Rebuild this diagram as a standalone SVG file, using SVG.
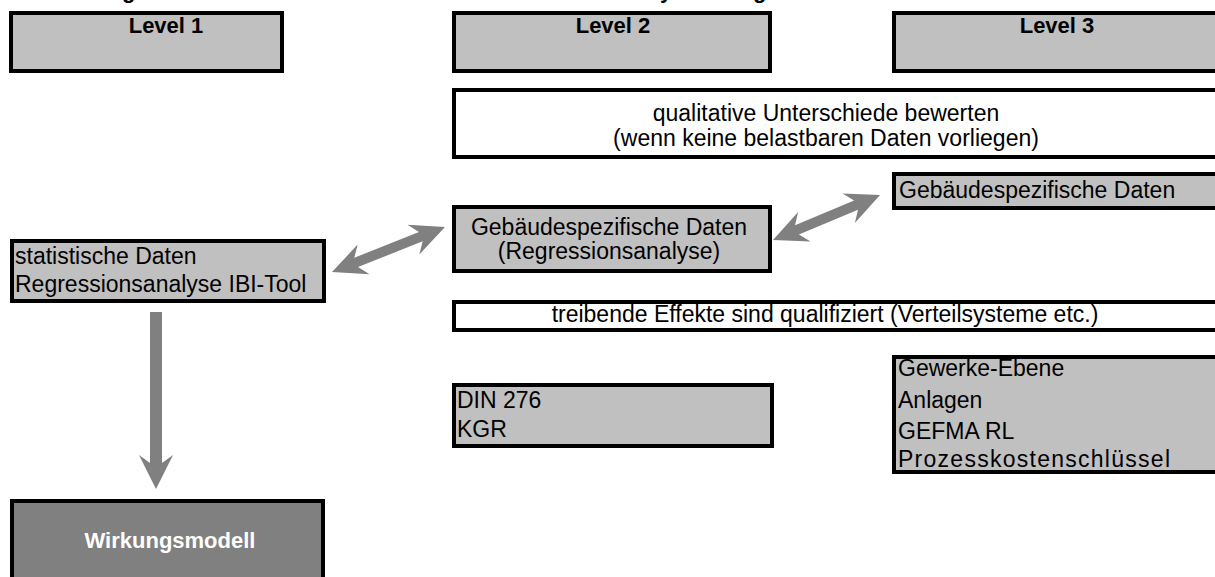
<svg xmlns="http://www.w3.org/2000/svg" width="1215" height="577" viewBox="0 0 1215 577">
  <style>
    .box { fill: #c0c0c0; stroke: #000; stroke-width: 4; }
    .plain { fill: #fff; stroke: #000; stroke-width: 4; }
    .dark { fill: #808080; stroke: #000; stroke-width: 4; }
    .arrow { fill: #808080; stroke: none; }
    text { font-family: "Liberation Sans", Arial, sans-serif; fill: #000; }
    .head { font-size: 22px; font-weight: bold; text-anchor: middle; }
    .frag { font-size: 22px; font-weight: bold; }
    .txt { font-size: 23px; }
    .mid { text-anchor: middle; }
    .light { fill: #fff; }
  </style>

  <rect width="1215" height="577" fill="#fff" />

  <!-- title line above the frame (only descenders reach into view) -->
  <g id="title-fragment">
    <text class="frag" x="122" y="-2">g</text>
    <text class="frag" x="660" y="-2">y</text>
    <text class="frag" x="753" y="-2">g</text>
  </g>

  <!-- connectors -->
  <g id="connectors">
    <!-- Level 1 down to Wirkungsmodell -->
    <polygon class="arrow" points="150,312 162,312 162,463 173,455 156,489 139,455 150,463" />
    <!-- statistische Daten <-> Gebäudespezifische Daten (Regressionsanalyse) -->
    <g transform="translate(332,272) rotate(-21.7)">
      <polygon class="arrow" points="0,0 34,-16 26,-5 95.6,-5 87.6,-16 121.6,0 87.6,16 95.6,5 26,5 34,16" />
    </g>
    <!-- Level 2 data <-> Level 3 data -->
    <g transform="translate(773,240) rotate(-22.8)">
      <polygon class="arrow" points="0,0 34,-16 26,-5 90.1,-5 82.1,-16 116.1,0 82.1,16 90.1,5 26,5 34,16" />
    </g>
  </g>

  <!-- column headers -->
  <g id="level1">
    <rect class="box" x="11" y="13" width="271" height="58" />
    <text class="head" x="166" y="33">Level 1</text>
  </g>
  <g id="level2">
    <rect class="box" x="454" y="13" width="316" height="58" />
    <text class="head" x="613" y="33">Level 2</text>
  </g>
  <g id="level3">
    <rect class="box" x="894" y="13" width="340" height="58" />
    <text class="head" x="1057" y="33">Level 3</text>
  </g>

  <!-- qualitative assessment band -->
  <g id="qualitativ">
    <rect class="plain" x="454" y="90" width="780" height="67" />
    <text class="txt mid" x="826" y="121" font-size="22">qualitative Unterschiede bewerten</text>
    <text class="txt mid" x="826" y="146" font-size="22">(wenn keine belastbaren Daten vorliegen)</text>
  </g>

  <!-- Level 3 building data -->
  <g id="gebaeude-l3">
    <rect class="box" x="894" y="174" width="340" height="34" />
    <text class="txt" x="899" y="198">Gebäudespezifische Daten</text>
  </g>

  <!-- Level 2 building data -->
  <g id="gebaeude-l2">
    <rect class="box" x="454" y="207" width="316" height="64" />
    <text class="txt mid" x="609" y="235">Gebäudespezifische Daten</text>
    <text class="txt mid" x="609" y="259">(Regressionsanalyse)</text>
  </g>

  <!-- Level 1 statistical data -->
  <g id="statistik">
    <rect class="box" x="12" y="241" width="312" height="60" />
    <text class="txt" x="15" y="264">statistische Daten</text>
    <text class="txt" x="15" y="292">Regressionsanalyse IBI-Tool</text>
  </g>

  <!-- driving effects band -->
  <g id="treibende">
    <rect class="plain" x="454" y="302" width="780" height="28" />
    <text class="txt mid" x="825" y="322">treibende Effekte sind qualifiziert (Verteilsysteme etc.)</text>
  </g>

  <!-- cost groups -->
  <g id="din276">
    <rect class="box" x="454" y="385" width="318" height="61" />
    <text class="txt" x="457" y="408">DIN 276</text>
    <text class="txt" x="457" y="437">KGR</text>
  </g>

  <!-- trade level -->
  <g id="gewerke">
    <rect class="box" x="894" y="357" width="340" height="115" />
    <text class="txt" x="898" y="376">Gewerke-Ebene</text>
    <text class="txt" x="898" y="408">Anlagen</text>
    <text class="txt" x="898" y="439">GEFMA RL</text>
    <text class="txt" x="898" y="467" textLength="272" lengthAdjust="spacing">Prozesskostenschlüssel</text>
  </g>

  <!-- impact model -->
  <g id="wirkungsmodell">
    <rect class="dark" x="12" y="501" width="311" height="100" />
    <text class="head light" x="170" y="548">Wirkungsmodell</text>
  </g>
</svg>
